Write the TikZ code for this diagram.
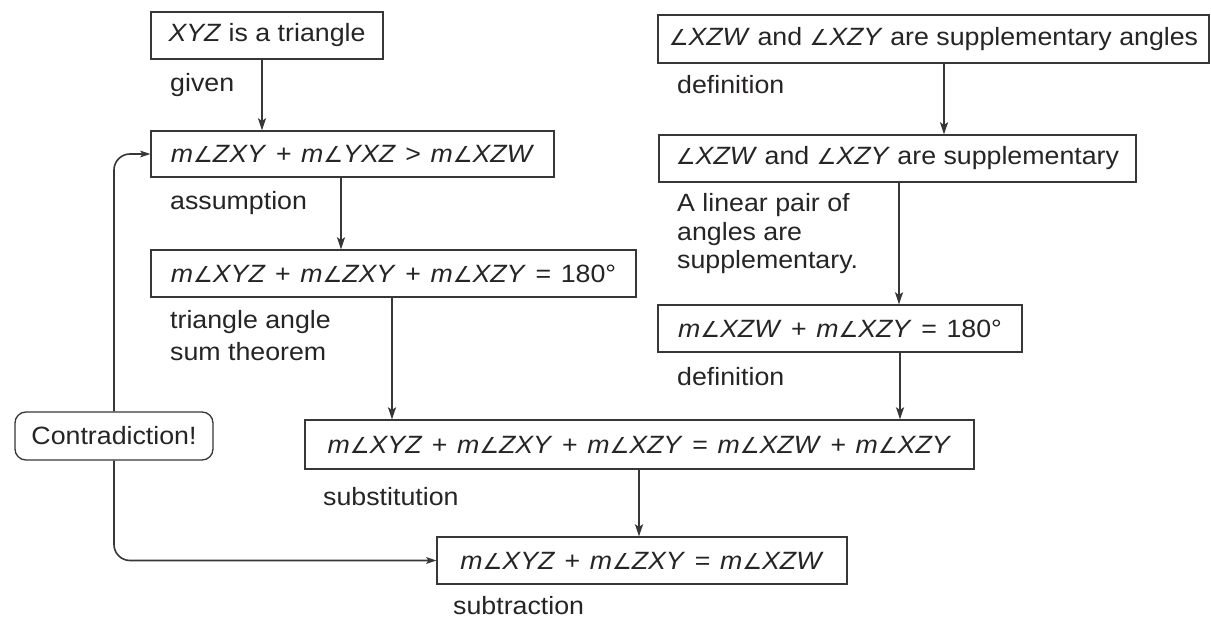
\documentclass[tikz,border=0pt]{standalone}
\usepackage{fontspec}
\setmainfont[FakeStretch=1.07]{Liberation Sans}
\newfontfamily\symf[Scale=0.88]{DejaVu Sans}
\usetikzlibrary{arrows.meta}
\definecolor{ink}{HTML}{262424}
\definecolor{linec}{HTML}{383636}
\newcommand{\angsym}{{\symf ∠}}
\newcommand{\ang}[1]{\textit{m}\angsym\textit{#1}}
\newcommand{\an}[1]{\angsym\textit{#1}}
\newcommand{\op}[1]{\hspace{0.38em}#1\hspace{0.38em}}
\tikzset{
  box/.style={draw=linec, line width=1.3pt, inner sep=0pt, text=ink,
    font=\fontsize{25}{30}\selectfont},
  lbl/.style={anchor=west, inner sep=0pt, text=ink, align=left},
  arr/.style={draw=linec, line width=1.6pt, -{Stealth[length=12pt,width=8pt,inset=2.5pt]}},
  arrs/.style={draw=linec, line width=1.6pt, rounded corners=16pt, -{Stealth[length=10pt,width=6.5pt,inset=2pt]}}
}
\begin{document}
\begin{tikzpicture}[x=1pt,y=-1pt]
\fill[white] (0,0) rectangle (1211,620);
\useasboundingbox (0,0) rectangle (1211,620);

% boxes
\node[box, minimum width=232pt, minimum height=47pt] (b1) at (267,35.5) {\textit{XYZ} is a triangle};
\node[box, minimum width=403pt, minimum height=46pt] (b2) at (352.5,154) {\ang{ZXY}\op{+}\ang{YXZ}\op{>}\ang{XZW}};
\node[box, minimum width=485pt, minimum height=47pt] (b3) at (393.5,273.5) {\ang{XYZ}\op{+}\ang{ZXY}\op{+}\ang{XZY}\op{=}180°};
\node[box, minimum width=551pt, minimum height=48pt] (b4) at (933.5,39) {\an{XZW} and \an{XZY} are supplementary angles};
\node[box, minimum width=477pt, minimum height=47pt] (b5) at (897.5,158.5) {\an{XZW} and \an{XZY} are supplementary};
\node[box, minimum width=364pt, minimum height=47pt] (b6) at (840,328.5) {\ang{XZW}\op{+}\ang{XZY}\op{=}180°};
\node[box, minimum width=669pt, minimum height=49pt] (b7) at (639.5,444.5) {\ang{XYZ}\op{+}\ang{ZXY}\op{+}\ang{XZY}\op{=}\ang{XZW}\op{+}\ang{XZY}};
\node[box, minimum width=410pt, minimum height=47pt] (b8) at (642,560.5) {\ang{XYZ}\op{+}\ang{ZXY}\op{=}\ang{XZW}};
\node[box, rounded corners=11pt, minimum width=198pt, minimum height=48pt] (con) at (114,436) {Contradiction!};

% labels
\begin{scope}[font=\fontsize{25}{30}\selectfont]
\node[lbl] (l1) at (170,85) {given};
\node[lbl] (l2) at (170,203) {assumption};
\node[lbl, font=\fontsize{25}{32}\selectfont] (l3) at (170,336) {triangle angle\\sum theorem};
\node[lbl] (l4) at (677,85) {definition};
\node[lbl, font=\fontsize{25}{28.5}\selectfont] (l5) at (677,234) {A linear pair of\\angles are\\supplementary.};
\node[lbl] (l6) at (677,377) {definition};
\node[lbl] (l7) at (323,497) {substitution};
\node[lbl] (l8) at (453,606) {subtraction};
\end{scope}

% arrow columns
\coordinate (x12) at (262,0);
\coordinate (x23) at (341,0);
\coordinate (x37) at (392,0);
\coordinate (x45) at (944,0);
\coordinate (x56) at (899,0);
\coordinate (x67) at (900,0);
\coordinate (x78) at (639,0);

\draw[arr] (x12 |- b1.south) -- (x12 |- b2.north);
\draw[arr] (x23 |- b2.south) -- (x23 |- b3.north);
\draw[arr] (x37 |- b3.south) -- (x37 |- b7.north);
\draw[arr] (x45 |- b4.south) -- (x45 |- b5.north);
\draw[arr] (x56 |- b5.south) -- (x56 |- b6.north);
\draw[arr] (x67 |- b6.south) -- (x67 |- b7.north);
\draw[arr] (x78 |- b7.south) -- (x78 |- b8.north);

\draw[arrs] (con.north) |- (b2.west);
\draw[arrs] (con.south) |- (b8.west);
\end{tikzpicture}
\end{document}
